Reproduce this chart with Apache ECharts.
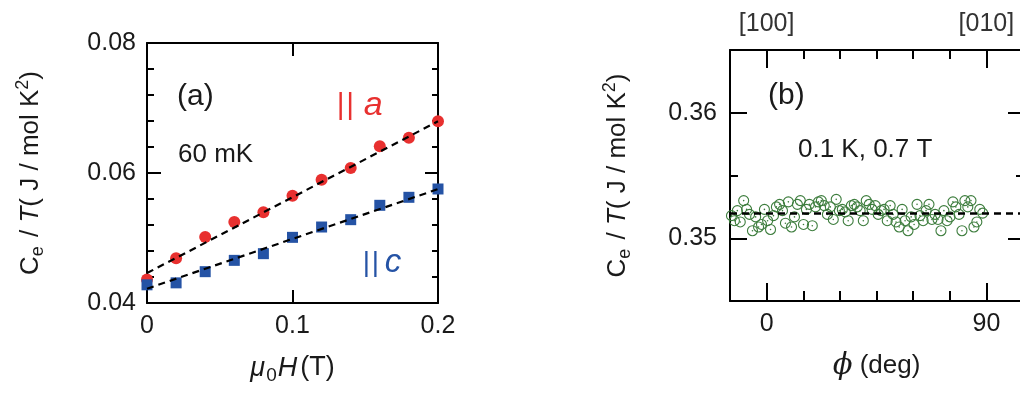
<!DOCTYPE html>
<html>
<head>
<meta charset="utf-8">
<script src="https://cdn.jsdelivr.net/npm/echarts@6/dist/echarts.min.js"></script>
<style>
  html, body { margin: 0; padding: 0; background: #ffffff; }
  #chart { width: 1020px; height: 401px; }
</style>
</head>
<body>
<div id="chart"></div>
<script>
// (a) field dependence of Ce/T at 60 mK
const fieldT   = [0, 0.02, 0.04, 0.06, 0.08, 0.10, 0.12, 0.14, 0.16, 0.18, 0.20];
const cAlongA  = [0.04360, 0.04690, 0.05015, 0.05246, 0.05395, 0.05651, 0.05897, 0.06077, 0.06410, 0.06544, 0.06795];
const cAlongC  = [0.04280, 0.04310, 0.04482, 0.04656, 0.04759, 0.05010, 0.05169, 0.05282, 0.05503, 0.05626, 0.05754];
// linear fits (end points in data units)
const fitAlongA = [[0, 0.04460], [0.2, 0.06795]];
const fitAlongC = [[0, 0.04220], [0.2, 0.05752]];

// (b) in-plane angle dependence at 0.1 K, 0.7 T
const phiDeg = [
  -14.4, -13.2, -12.0, -10.8,  -9.4, -8.2, -7.0, -5.8,  -4.5, -3.3, -2.1, -0.9,
    0.4,   1.6,   2.8,   4.0,   5.3,  6.5,  7.7,  8.9,  10.2, 11.4, 12.6, 13.8,
   15.1,  16.3,  17.5,  18.7,  20.0, 21.2, 22.4, 23.6,  24.9, 26.1, 27.3, 28.5,
   29.8,  31.0,  32.2,  33.4,  34.7, 35.9, 37.1, 38.3,  39.6, 40.8, 42.0, 43.2,
   44.5,  45.7,  46.9,  48.1,  49.4, 50.6, 51.8, 53.0,  54.3, 55.5, 56.7, 57.9,
   59.2,  60.4,  61.6,  62.8,  64.1, 65.3, 66.5, 67.7,  69.0, 70.2, 71.4, 72.6,
   73.9,  75.1,  76.3,  77.5,  78.8, 80.0, 81.2, 82.4,  83.7, 84.9, 86.1, 87.3, 88.5
];
const cPhi = [
  0.3518, 0.3514, 0.3522, 0.3513,  0.3530, 0.3523, 0.3519, 0.3506,  0.3517, 0.3509, 0.3511, 0.3523,
  0.3514, 0.3507, 0.3518, 0.3525,  0.3527, 0.3522, 0.3512, 0.3529,  0.3509, 0.3517, 0.3527, 0.3530,
  0.3511, 0.3523, 0.3527, 0.3510,  0.3525, 0.3529, 0.3530, 0.3526,  0.3519, 0.3525, 0.3515, 0.3531,
  0.3522, 0.3523, 0.3521, 0.3514,  0.3526, 0.3527, 0.3525, 0.3522,  0.3514, 0.3530, 0.3527, 0.3523,
  0.3526, 0.3519, 0.3522, 0.3523,  0.3514, 0.3526, 0.3519, 0.3513,  0.3509, 0.3523, 0.3514, 0.3506,
  0.3517, 0.3511, 0.3527, 0.3518,  0.3514, 0.3522, 0.3527, 0.3515,  0.3519, 0.3515, 0.3506, 0.3522,
  0.3514, 0.3517, 0.3529, 0.3525,  0.3519, 0.3506, 0.3530, 0.3525,  0.3530, 0.3509, 0.3513, 0.3523, 0.3520
];
const fitPhi = 0.35202;

// tick labels
const phiLabels    = { 0: '0', 90: '90' };
const phiDirLabels = { 0: '[100]', 90: '[010]' };
const phiMajor     = [0, 90];
const cPhiMajor    = [0.35, 0.36];

const FONT = '"Liberation Sans", Arial, Helvetica, sans-serif';
const INK = '#1a1a1a';
const RED = '#e8302f';
const BLUE = '#2553a5';
const GREEN = '#3d7d3d';

const pairs = (xs, ys) => xs.map((x, i) => [x, ys[i]]);
const near = (v, list) => list.some(t => Math.abs(v - t) < 1e-6);

const frameLine = { show: true, onZero: false, lineStyle: { color: '#000', width: 2 } };
const hiddenLine = { show: false, onZero: false };
const tickStyle = (len) => ({ show: true, inside: true, length: len, lineStyle: { color: '#000', width: 2 } });
const labelStyle = { color: INK, fontSize: 25, fontFamily: FONT };

const nameRichY = {
  n: { fontSize: 26, fontFamily: FONT, color: INK, lineHeight: 36, verticalAlign: 'middle' },
  i: { fontSize: 26, fontFamily: FONT, color: INK, fontStyle: 'italic', lineHeight: 36, verticalAlign: 'middle' },
  s: { fontSize: 18, fontFamily: FONT, color: INK, lineHeight: 36, verticalAlign: 'bottom', padding: [0, 2, 2, 0] },
  p: { fontSize: 18, fontFamily: FONT, color: INK, lineHeight: 36, verticalAlign: 'top', padding: [1, 0, 0, 0] }
};
const yName = '{n|C}{s|e}{n| / }{i|T}{n|( J / mol K}{p|2}{n|)}';

const chart = echarts.init(document.getElementById('chart'), null, { renderer: 'canvas' });

chart.setOption({
  backgroundColor: '#ffffff',
  animation: false,
  grid: [
    { left: 147, top: 43, width: 291, height: 260, containLabel: false, outerBoundsMode: 'none' },
    { left: 730, top: 50, width: 293, height: 251, containLabel: false, outerBoundsMode: 'none' }
  ],
  xAxis: [
    { // (a) bottom
      gridIndex: 0, type: 'value', position: 'bottom', min: 0, max: 0.2, interval: 0.1,
      axisLine: frameLine, axisTick: tickStyle(13), splitLine: { show: false },
      axisLabel: Object.assign({ margin: 11, formatter: v => (v === 0 ? '0' : v.toFixed(1)) }, labelStyle),
      name: '{i|μ}{s|0}{i|H}{n|(T)}', nameLocation: 'middle', nameGap: 48,
      nameTextStyle: {
        rich: {
          i: { fontSize: 27, fontFamily: FONT, color: INK, fontStyle: 'italic', lineHeight: 34, verticalAlign: 'middle' },
          n: { fontSize: 27, fontFamily: FONT, color: INK, lineHeight: 34, verticalAlign: 'middle', padding: [0, 0, 0, 3] },
          s: { fontSize: 19, fontFamily: FONT, color: INK, lineHeight: 34, verticalAlign: 'bottom', padding: [0, 1, 0, 1] }
        }
      }
    },
    { // (a) top
      gridIndex: 0, type: 'value', position: 'top', min: 0, max: 0.2, interval: 0.1,
      axisLine: frameLine, axisTick: tickStyle(13), axisLabel: { show: false }, splitLine: { show: false }
    },
    { // (b) bottom, every 15 deg
      gridIndex: 1, type: 'value', position: 'bottom', min: -15, max: 105, interval: 15,
      axisLine: frameLine, axisTick: tickStyle(10), splitLine: { show: false },
      axisLabel: Object.assign({ margin: 11, formatter: v => phiLabels[v] || '' }, labelStyle),
      name: '{i|ϕ}{n| (deg)}', nameLocation: 'middle', nameGap: 48,
      nameTextStyle: {
        rich: {
          i: { fontSize: 29, fontFamily: '"DejaVu Serif", serif', color: INK, fontStyle: 'italic', lineHeight: 34, verticalAlign: 'middle' },
          n: { fontSize: 26, fontFamily: FONT, color: INK, lineHeight: 34, verticalAlign: 'middle' }
        }
      }
    },
    { // (b) bottom, long ticks at 0 and 90
      gridIndex: 1, type: 'value', position: 'bottom', min: -15, max: 105,
      axisLine: hiddenLine, axisLabel: { show: false }, splitLine: { show: false },
      axisTick: Object.assign(tickStyle(18), { customValues: phiMajor })
    },
    { // (b) top, crystal directions
      gridIndex: 1, type: 'value', position: 'top', min: -15, max: 105, interval: 15,
      axisLine: frameLine, axisTick: tickStyle(9), splitLine: { show: false },
      axisLabel: Object.assign({ margin: 13, formatter: v => phiDirLabels[v] || '' }, labelStyle, { color: '#333' })
    },
    { // (b) top, long ticks
      gridIndex: 1, type: 'value', position: 'top', min: -15, max: 105,
      axisLine: hiddenLine, axisLabel: { show: false }, splitLine: { show: false },
      axisTick: Object.assign(tickStyle(18), { customValues: phiMajor })
    }
  ],
  yAxis: [
    { // (a) left
      gridIndex: 0, type: 'value', position: 'left', min: 0.04, max: 0.08, interval: 0.02,
      axisLine: frameLine, axisTick: tickStyle(14), splitLine: { show: false },
      minorTick: { show: true, splitNumber: 5, length: 7, lineStyle: { color: '#000', width: 2 } },
      axisLabel: Object.assign({ margin: 11, formatter: v => v.toFixed(2) }, labelStyle),
      name: yName, nameLocation: 'middle', nameRotate: 90, nameGap: 98,
      nameTextStyle: { rich: nameRichY }
    },
    { // (a) right
      gridIndex: 0, type: 'value', position: 'right', min: 0.04, max: 0.08, interval: 0.02,
      axisLine: frameLine, axisTick: tickStyle(13), splitLine: { show: false }, axisLabel: { show: false },
      minorTick: { show: true, splitNumber: 5, length: 6, lineStyle: { color: '#000', width: 2 } }
    },
    { // (b) left, every 0.005
      gridIndex: 1, type: 'value', position: 'left', min: 0.345, max: 0.365, interval: 0.005,
      axisLine: frameLine, axisTick: tickStyle(8), splitLine: { show: false },
      axisLabel: Object.assign({ margin: 13, formatter: v => (near(v, cPhiMajor) ? v.toFixed(2) : '') }, labelStyle),
      name: yName, nameLocation: 'middle', nameRotate: 90, nameGap: 94,
      nameTextStyle: { rich: nameRichY }
    },
    { // (b) left, long ticks
      gridIndex: 1, type: 'value', position: 'left', min: 0.345, max: 0.365,
      axisLine: hiddenLine, axisLabel: { show: false }, splitLine: { show: false },
      axisTick: Object.assign(tickStyle(17), { customValues: cPhiMajor })
    },
    { // (b) right
      gridIndex: 1, type: 'value', position: 'right', min: 0.345, max: 0.365, interval: 0.005,
      axisLine: frameLine, axisTick: tickStyle(7), splitLine: { show: false }, axisLabel: { show: false }
    },
    { // (b) right, long ticks
      gridIndex: 1, type: 'value', position: 'right', min: 0.345, max: 0.365,
      axisLine: hiddenLine, axisLabel: { show: false }, splitLine: { show: false },
      axisTick: Object.assign(tickStyle(15), { customValues: cPhiMajor })
    }
  ],
  series: [
    {
      name: 'fit a', type: 'line', xAxisIndex: 0, yAxisIndex: 0, data: fitAlongA,
      symbol: 'none', z: 3, lineStyle: { color: '#000', width: 2.2, type: [7, 5] }
    },
    {
      name: 'fit c', type: 'line', xAxisIndex: 0, yAxisIndex: 0, data: fitAlongC,
      symbol: 'none', z: 3, lineStyle: { color: '#000', width: 2.2, type: [7, 5] }
    },
    {
      name: '|| a', type: 'scatter', xAxisIndex: 0, yAxisIndex: 0, data: pairs(fieldT, cAlongA),
      symbol: 'circle', symbolSize: 12, z: 2, itemStyle: { color: RED, opacity: 1 }
    },
    {
      name: '|| c', type: 'scatter', xAxisIndex: 0, yAxisIndex: 0, data: pairs(fieldT, cAlongC),
      symbol: 'rect', symbolSize: 11, z: 2, itemStyle: { color: BLUE, opacity: 1 }
    },
    {
      name: 'phi', type: 'scatter', xAxisIndex: 2, yAxisIndex: 2, data: pairs(phiDeg, cPhi),
      symbol: 'circle', symbolSize: 10, z: 2,
      itemStyle: { color: 'rgba(0,0,0,0)', borderColor: GREEN, borderWidth: 1.1, opacity: 1 },
      markLine: {
        silent: true, symbol: 'none', precision: 6, label: { show: false },
        lineStyle: { color: '#000', width: 2.6, type: [7, 5] },
        data: [{ yAxis: fitPhi }]
      }
    },
    {
      name: 'phi centre', type: 'scatter', xAxisIndex: 2, yAxisIndex: 2, data: pairs(phiDeg, cPhi),
      symbol: 'circle', symbolSize: 1.6, z: 2, itemStyle: { color: GREEN, opacity: 1 }
    }
  ],
  graphic: [
    { type: 'text', x: 177, y: 97, style: { text: '(a)', fontSize: 30, fontFamily: FONT, fill: INK, verticalAlign: 'middle' } },
    { type: 'text', x: 178, y: 155, style: { text: '60 mK', fontSize: 26, fontFamily: FONT, fill: INK, verticalAlign: 'middle' } },
    { type: 'text', x: 336, y: 106, style: {
        text: '{b||}{b||}{g|}{i|a}', verticalAlign: 'middle',
        rich: {
          b: { fontSize: 30, fontFamily: FONT, fill: RED, padding: [0, 0.8, 0, 0.8] },
          g: { width: 9 },
          i: { fontSize: 34, fontFamily: FONT, fontStyle: 'italic', fill: RED }
        } } },
    { type: 'text', x: 362, y: 263, style: {
        text: '{b||}{b||}{g|}{i|c}', verticalAlign: 'middle',
        rich: {
          b: { fontSize: 28, fontFamily: FONT, fill: BLUE, padding: [0, 0.8, 0, 0.8] },
          g: { width: 5 },
          i: { fontSize: 33, fontFamily: FONT, fontStyle: 'italic', fill: BLUE }
        } } },
    { type: 'text', x: 768, y: 96, style: { text: '(b)', fontSize: 30, fontFamily: FONT, fill: INK, verticalAlign: 'middle' } },
    { type: 'text', x: 798, y: 150, style: { text: '0.1 K, 0.7 T', fontSize: 26, fontFamily: FONT, fill: INK, verticalAlign: 'middle' } }
  ]
});
</script>
</body>
</html>
